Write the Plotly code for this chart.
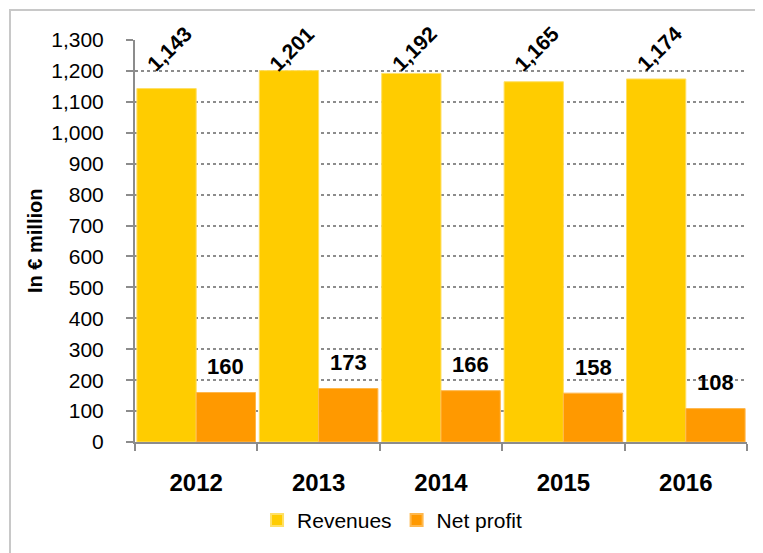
import plotly.graph_objects as go

years = ["2012", "2013", "2014", "2015", "2016"]
revenues = [1143, 1201, 1192, 1165, 1174]
net_profit = [160, 173, 166, 158, 108]
y_ticks = [0, 100, 200, 300, 400, 500, 600, 700, 800, 900, 1000, 1100, 1200, 1300]

FONT = "Liberation Sans, Arial, sans-serif"
C_REV = "#FFCC00"
C_NET = "#FF9900"

W, H = 755, 545
L, R, T, B = 127, 16, 32, 111
PW, PH = W - L - R, H - T - B

fig = go.Figure()
fig.add_trace(go.Bar(x=years, y=revenues, name="Revenues",
                     marker=dict(color=C_REV, line=dict(color="#FFE066", width=1))))
fig.add_trace(go.Bar(x=years, y=net_profit, name="Net profit",
                     marker=dict(color=C_NET, line=dict(color="#FFB84D", width=1))))

bargap = 0.031
half = (1 - bargap) / 4
annotations = []
for i, (r, n) in enumerate(zip(revenues, net_profit)):
    annotations.append(dict(x=i - half, y=0.979, xref="x", yref="paper", text=f"<b>{r:,}</b>",
                            showarrow=False, textangle=-45, xshift=3,
                            font=dict(family=FONT, size=21, color="black"),
                            xanchor="center", yanchor="middle"))
    annotations.append(dict(x=i + half, y=n, xref="x", yref="y", text=f"<b>{n}</b>",
                            showarrow=False, yshift=26,
                            font=dict(family=FONT, size=22, color="black"),
                            xanchor="center", yanchor="middle"))

annotations.append(dict(x=(27 - L) / PW, y=0.5, xref="paper", yref="paper",
                        text="<b>In € million</b>", showarrow=False, textangle=-90,
                        font=dict(family=FONT, size=20, color="black"),
                        xanchor="center", yanchor="middle"))

fig.update_layout(
    width=W, height=H,
    margin=dict(l=L, r=R, t=T, b=B),
    paper_bgcolor="white", plot_bgcolor="white",
    barmode="group", bargap=bargap, bargroupgap=0,
    font=dict(family=FONT, color="black"),
    showlegend=True,
    legend=dict(orientation="h", x=0.42, y=-0.195, xanchor="center", yanchor="middle",
                font=dict(family=FONT, size=21, color="black"), itemwidth=30,
                itemsizing="constant", traceorder="normal"),
    annotations=annotations,
    shapes=[dict(type="rect", xref="paper", yref="paper",
                 x0=(2 - L) / PW, x1=(W + 20 - L) / PW,
                 y0=-(B + 20) / PH, y1=(PH + T - 2) / PH,
                 line=dict(color="#C8C8C8", width=2), fillcolor="rgba(0,0,0,0)", layer="below")],
)

fig.update_xaxes(showline=True, linecolor="#8C8C8C", linewidth=2,
                 ticks="outside", ticklen=7, tickcolor="#8C8C8C", tickwidth=2,
                 tickson="boundaries", ticklabelstandoff=18, automargin=False,
                 tickfont=dict(family=FONT, size=24, weight="bold", color="black"),
                 showgrid=False)
fig.update_yaxes(range=[0, 1300], tickvals=y_ticks, ticktext=[f"{v:,}" for v in y_ticks],
                 showline=True, linecolor="#8C8C8C", linewidth=2,
                 ticks="outside", ticklen=7, tickcolor="#8C8C8C", tickwidth=2,
                 ticklabelstandoff=18, automargin=False,
                 tickfont=dict(family=FONT, size=21, color="black"),
                 showgrid=True, gridcolor="#8C8C8C", griddash="dot", gridwidth=1.5,
                 zeroline=False)

fig.write_html("out.html")
